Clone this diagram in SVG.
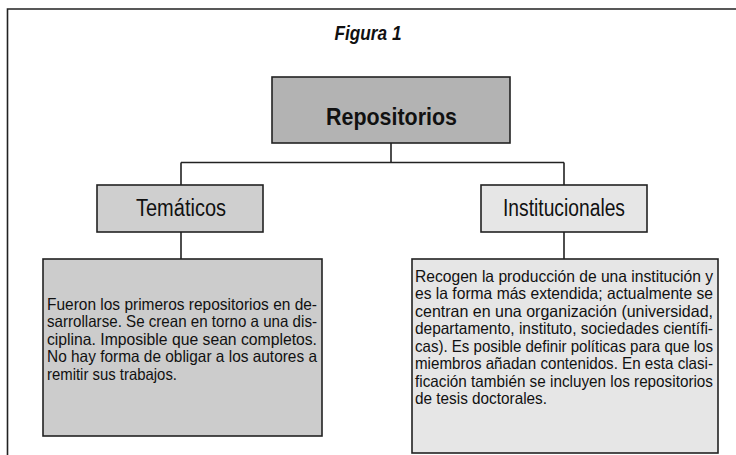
<svg xmlns="http://www.w3.org/2000/svg" width="736" height="455" viewBox="0 0 736 455">
<style>
.box{stroke:#222;stroke-width:1.6}
.ln{stroke:#222;stroke-width:1.6;fill:none}
text{font-family:"Liberation Sans",Arial,sans-serif;fill:#111}
.body{font-size:16.5px}
.hd{font-size:23px}
</style>
<rect width="736" height="455" fill="#fff"/>
<path class="ln" d="M7.5,455 V9 H736" stroke="#333"/>
<text x="368" y="40" font-size="21" font-weight="bold" font-style="italic" text-anchor="middle" textLength="67" lengthAdjust="spacingAndGlyphs">Figura 1</text>
<g id="connectors">
<path class="ln" d="M391,143 V162.5 M181,162.5 H564 M181,162.5 V185 M564,162.5 V185 M181,232 V259 M564,232 V259"/>
</g>
<g id="repositorios">
<rect class="box" x="272" y="77" width="238" height="66" fill="#b3b3b3"/>
<text x="391.5" y="124.5" font-size="24" font-weight="bold" text-anchor="middle" textLength="131" lengthAdjust="spacingAndGlyphs">Repositorios</text>
</g>
<g id="tematicos">
<rect class="box" x="97" y="185" width="166" height="47" fill="#cfcfcf"/>
<text class="hd" x="181" y="215.5" text-anchor="middle" textLength="90" lengthAdjust="spacingAndGlyphs">Temáticos</text>
</g>
<g id="institucionales">
<rect class="box" x="481" y="185" width="166" height="47" fill="#e6e6e6"/>
<text class="hd" x="564" y="215.5" text-anchor="middle" textLength="122" lengthAdjust="spacingAndGlyphs">Institucionales</text>
</g>
<g id="tematicos-desc">
<rect class="box" x="43" y="259" width="279" height="177" fill="#cccccc"/>
<g class="body">
<text x="47" y="309.5" textLength="270" lengthAdjust="spacingAndGlyphs">Fueron los primeros repositorios en de-</text>
<text x="47" y="327" textLength="270" lengthAdjust="spacingAndGlyphs">sarrollarse. Se crean en torno a una dis-</text>
<text x="47" y="344.5" textLength="270" lengthAdjust="spacingAndGlyphs">ciplina. Imposible que sean completos.</text>
<text x="47" y="362" textLength="270" lengthAdjust="spacingAndGlyphs">No hay forma de obligar a los autores a</text>
<text x="47" y="379.5" textLength="130" lengthAdjust="spacingAndGlyphs">remitir sus trabajos.</text>
</g>
</g>
<g id="institucionales-desc">
<rect class="box" x="412" y="259" width="306" height="194" fill="#e6e6e6"/>
<g class="body">
<text x="415" y="281.5" textLength="298" lengthAdjust="spacingAndGlyphs">Recogen la producción de una institución y</text>
<text x="415" y="299" textLength="298" lengthAdjust="spacingAndGlyphs">es la forma más extendida; actualmente se</text>
<text x="415" y="316.5" textLength="298" lengthAdjust="spacingAndGlyphs">centran en una organización (universidad,</text>
<text x="415" y="334" textLength="298" lengthAdjust="spacingAndGlyphs">departamento, instituto, sociedades científi-</text>
<text x="415" y="351.5" textLength="298" lengthAdjust="spacingAndGlyphs">cas). Es posible definir políticas para que los</text>
<text x="415" y="369" textLength="298" lengthAdjust="spacingAndGlyphs">miembros añadan contenidos. En esta clasi-</text>
<text x="415" y="386.5" textLength="298" lengthAdjust="spacingAndGlyphs">ficación también se incluyen los repositorios</text>
<text x="415" y="404" textLength="132" lengthAdjust="spacingAndGlyphs">de tesis doctorales.</text>
</g>
</g>
</svg>
